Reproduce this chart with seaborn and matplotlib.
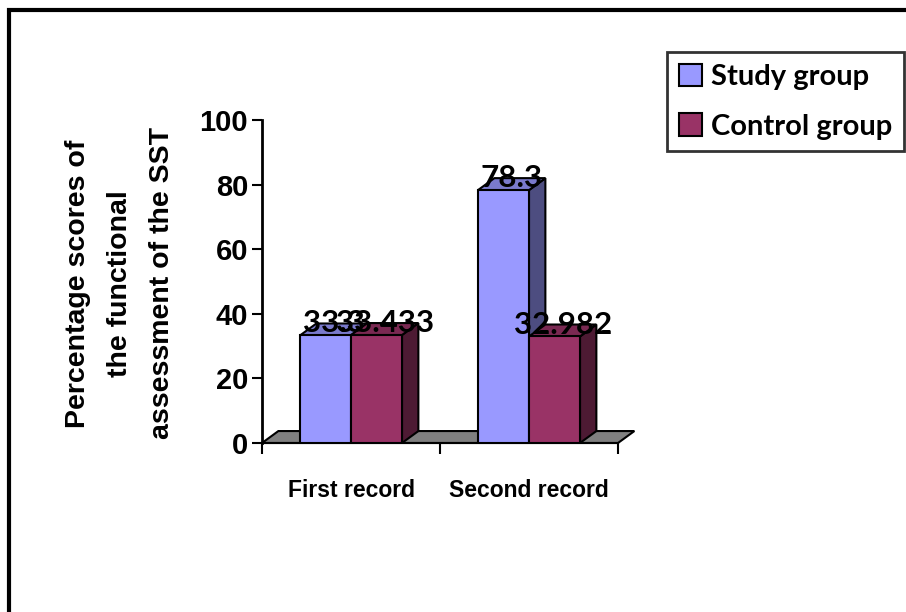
import matplotlib
matplotlib.use("Agg")
import matplotlib.pyplot as plt
from matplotlib.patches import Polygon, Rectangle
import seaborn as sns
import pandas as pd

# ---------------- data ----------------
records = ["First record", "Second record"]
groups = ["Study group", "Control group"]
study_vals = [33.3, 78.3]
control_vals = [33.433, 32.982]
group_colors = ["#9999FF", "#993366"]
side_colors = ["#4D4D80", "#4D1A33"]
top_colors = ["#7A7ACC", "#7A2952"]

df = pd.DataFrame({
    "record": records * 2,
    "group": [groups[0]] * 2 + [groups[1]] * 2,
    "value": study_vals + control_vals,
})

sns.set_theme(style="white")
plt.rcParams["font.family"] = ["Liberation Sans", "DejaVu Sans"]
plt.rcParams["text.color"] = "black"
plt.rcParams["axes.labelcolor"] = "black"
plt.rcParams["xtick.color"] = "black"
plt.rcParams["ytick.color"] = "black"

fig = plt.figure(figsize=(9.06, 6.12), dpi=100)
ax = fig.add_axes([262 / 906, 1 - 443 / 612, 356 / 906, 323 / 612])

sns.barplot(data=df, x="record", y="value", hue="group", order=records,
            hue_order=groups, palette=group_colors, width=0.573,
            edgecolor="black", linewidth=1.5, saturation=1, legend=False, ax=ax)

ax.set_xlim(-0.5, 1.5)
ax.set_ylim(0, 100)

# depth of the fake 3d effect (data units)
dx, dy = 0.092, 3.7

# floor slab
floor = Polygon([(-0.5, 0), (1.5, 0), (1.5 + dx, dy), (-0.5 + dx, dy)],
                closed=True, facecolor="#808080", edgecolor="black",
                linewidth=1.5, zorder=1, clip_on=False)
ax.add_patch(floor)

# side + top faces
n = len(records)
for i, bar in enumerate(list(ax.patches)):
    if not isinstance(bar, Rectangle) or bar is floor:
        continue
    g = i // n
    x0 = bar.get_x()
    w = bar.get_width()
    h = bar.get_height()
    bar.set_zorder(3 + g)
    side = Polygon([(x0 + w, 0), (x0 + w + dx, dy), (x0 + w + dx, h + dy), (x0 + w, h)],
                   closed=True, facecolor=side_colors[g], edgecolor="black",
                   linewidth=1.5, zorder=2.9 + g, clip_on=False)
    top = Polygon([(x0, h), (x0 + dx, h + dy), (x0 + w + dx, h + dy), (x0 + w, h)],
                  closed=True, facecolor=top_colors[g], edgecolor="black",
                  linewidth=1.5, zorder=2.9 + g, clip_on=False)
    ax.add_patch(side)
    ax.add_patch(top)

# value labels (they overlap in the original too)
vals = [study_vals, control_vals]
for g, cont in enumerate(ax.containers):
    for bar, v in zip(cont, vals[g]):
        ax.text(bar.get_x() + bar.get_width() / 2 + dx / 2, bar.get_height() + dy,
                f"{v:g}", ha="center", va="center", fontsize=22.5,
                fontweight="bold", family=["Lato", "DejaVu Sans"], zorder=10)

# axes styling
for s in ["top", "right"]:
    ax.spines[s].set_visible(False)
ax.spines["left"].set_color("black")
ax.spines["left"].set_linewidth(2)
ax.spines["bottom"].set_color("black")
ax.spines["bottom"].set_linewidth(1.5)

ax.set_yticks([0, 20, 40, 60, 80, 100])
ax.tick_params(axis="y", which="major", direction="out", length=7, width=1.5,
               color="black", labelsize=21, pad=3, left=True)
for lab in ax.get_yticklabels():
    lab.set_fontweight("bold")

ax.set_xticks([-0.5, 0.5, 1.5])
ax.set_xticklabels([])
ax.set_xticks([0, 1], minor=True)
ax.set_xticklabels(records, minor=True, fontsize=16.5, fontweight="bold")
ax.tick_params(axis="x", which="major", direction="out", length=8, width=1.5,
               color="black", bottom=True)
ax.tick_params(axis="x", which="minor", length=0, pad=26)
ax.set_xlabel("")

ax.set_ylabel("Percentage scores of\nthe functional\nassessment of the SST",
              fontsize=20.5, fontweight="bold", linespacing=1.8,
              va="center", ha="center")
ax.yaxis.set_label_coords(-0.399, 0.494)

# legend
handles = [Rectangle((0, 0), 1, 1, facecolor=c, edgecolor="black", linewidth=1.5)
           for c in group_colors]
leg = fig.legend(handles, groups, loc="upper left",
                 bbox_to_anchor=(667 / 906, 1 - 52 / 612),
                 bbox_transform=fig.transFigure,
                 prop={"family": ["Lato", "DejaVu Sans"], "weight": "bold", "size": 21},
                 frameon=True, fancybox=False, handlelength=0.8, handleheight=0.8,
                 handletextpad=0.3, borderpad=0.4, labelspacing=0.8,
                 borderaxespad=0)
leg.get_frame().set_edgecolor("black")
leg.get_frame().set_linewidth(2)

# outer frame of the chart area
fig.patches.append(Rectangle((9 / 906, -0.05), 1.2, 1 - 10 / 612 + 0.05,
                             transform=fig.transFigure, fill=False,
                             edgecolor="black", linewidth=3))

fig.savefig("out.png", dpi=100)
